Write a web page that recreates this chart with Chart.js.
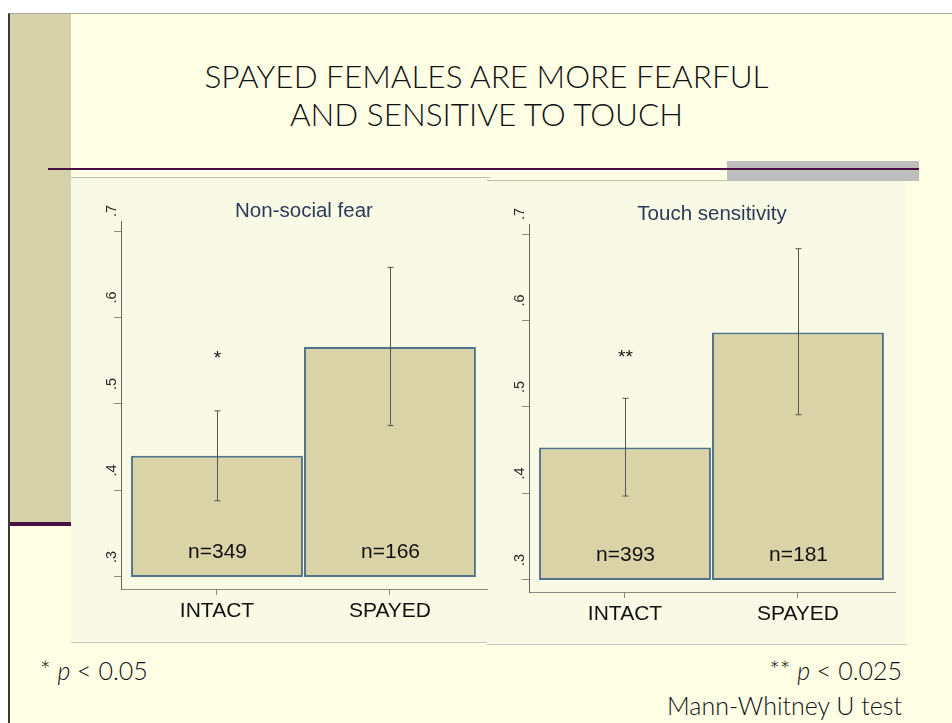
<!DOCTYPE html>
<html>
<head>
<meta charset="utf-8">
<script src="https://cdn.jsdelivr.net/npm/chart.js@4.4.1/dist/chart.umd.min.js"></script>
<style>
  html, body { margin: 0; padding: 0; }
  body { width: 952px; height: 723px; position: relative; overflow: hidden; background: #ffffff; }
  .abs { position: absolute; }
  #slide { left: 8px; top: 13px; width: 944px; height: 710px; background: #ffffe6; border-left: 2px solid #3a3a30; border-top: 1px solid #a8a89a; box-sizing: border-box; }
  #strip { left: 10px; top: 14px; width: 61px; height: 508px; background: #d5d2a9; }
  #stripLine { left: 10px; top: 522px; width: 61px; height: 4px; background: #4a1046; }
  #greyBox { left: 727px; top: 161px; width: 192px; height: 20px; background: #bebebe; }
  #rule { left: 48px; top: 168px; width: 871px; height: 2px; background: #4a1046; }
  .panel { background: #f8fae5; border-top: 1px solid #bdbdb0; border-bottom: 1px solid #c6c6b8; box-sizing: border-box; }
  #panelL { left: 71px; top: 177px; width: 419px; height: 466px; }
  #panelR { left: 487px; top: 180px; width: 420px; height: 465px; }
  canvas { position: absolute; }
  .title { left: 71px; width: 831px; text-align: center; font-family: Lato, "Open Sans", sans-serif; font-weight: 300; font-size: 31.5px; color: #111; line-height: 37px; white-space: nowrap; }
  .note { font-family: Lato, "Open Sans", sans-serif; font-weight: 300; font-size: 25px; color: #111; white-space: nowrap; }
</style>
</head>
<body>
<div id="slide" class="abs"></div>
<div id="strip" class="abs"></div>
<div id="stripLine" class="abs"></div>
<div id="panelL" class="abs panel"></div>
<div id="panelR" class="abs panel"></div>
<div id="greyBox" class="abs"></div>
<div id="rule" class="abs"></div>
<div class="abs title" style="top:58px;">SPAYED FEMALES ARE MORE FEARFUL</div>
<div class="abs title" style="top:96px;">AND SENSITIVE TO TOUCH</div>
<canvas id="fearChart" width="420" height="466" style="left:71px; top:177px; width:420px; height:466px;"></canvas>
<canvas id="touchChart" width="420" height="466" style="left:479px; top:180px; width:420px; height:466px;"></canvas>
<div class="abs note" style="left:40px; top:655px;">* <i>p</i> &lt; 0.05</div>
<div class="abs note" style="right:50px; top:655px;">** <i>p</i> &lt; 0.025</div>
<div class="abs note" style="right:50px; top:690px;">Mann-Whitney U test</div>

<script>
const categories = ['INTACT', 'SPAYED'];
const yTicks = [0.3, 0.4, 0.5, 0.6, 0.7];
const barBase = 0.3;

// Non-social fear
const fearMeans = [0.440, 0.566];
const fearLow = [0.388, 0.475];
const fearHigh = [0.492, 0.658];
const fearN = ['n=349', 'n=166'];
const fearStars = ['*', ''];
const fearStarAt = 0.557;

// Touch sensitivity
const touchMeans = [0.453, 0.586];
const touchLow = [0.397, 0.491];
const touchHigh = [0.510, 0.683];
const touchN = ['n=393', 'n=181'];
const touchStars = ['**', ''];
const touchStarAt = 0.562;

const nLabelAt = 0.329;
const ARIAL = '"Liberation Sans", Arial, sans-serif';

// error bars, n= labels and significance stars
const annotate = {
  id: 'annotate',
  afterDatasetsDraw(chart, args, opts) {
    const { ctx, scales: { x, y } } = chart;
    ctx.save();
    ctx.strokeStyle = '#55554c';
    ctx.lineWidth = 1;
    categories.forEach((c, i) => {
      const px = Math.round(x.getPixelForValue(i)) + 0.5;
      const yLo = y.getPixelForValue(opts.low[i]);
      const yHi = y.getPixelForValue(opts.high[i]);
      ctx.beginPath();
      ctx.moveTo(px, yLo); ctx.lineTo(px, yHi);
      ctx.moveTo(px - 3, yLo); ctx.lineTo(px + 3, yLo);
      ctx.moveTo(px - 3, yHi); ctx.lineTo(px + 3, yHi);
      ctx.stroke();

      ctx.fillStyle = '#111';
      ctx.textAlign = 'center';
      ctx.textBaseline = 'middle';
      ctx.font = '21px ' + ARIAL;
      ctx.fillText(opts.n[i], px, y.getPixelForValue(nLabelAt));
      if (opts.stars[i]) {
        ctx.font = '19px ' + ARIAL;
        ctx.fillText(opts.stars[i], px, y.getPixelForValue(opts.starAt) + 4);
      }
    });
    ctx.restore();
  }
};

function makeChart(id, title, means, low, high, nLabels, stars, starAt) {
  return new Chart(document.getElementById(id), {
    type: 'bar',
    data: {
      datasets: [{
        data: categories.map((c, i) => ({ x: i, y: [barBase, means[i]] })),
        backgroundColor: '#dad3a8',
        borderColor: '#51748a',
        borderWidth: 2,
        borderSkipped: false,
        categoryPercentage: 1,
        barPercentage: 0.994
      }]
    },
    options: {
      responsive: false,
      animation: false,
      layout: { padding: { left: 0, right: 4, top: 0, bottom: 14 } },
      plugins: {
        legend: { display: false },
        tooltip: { enabled: false },
        title: {
          display: true,
          text: title,
          fullSize: false,
          color: '#2b3a58',
          font: { family: ARIAL, size: 20.5, weight: 'normal', lineHeight: 1 },
          padding: { top: 24, bottom: 0 }
        },
        annotate: { low, high, n: nLabels, stars, starAt }
      },
      scales: {
        x: {
          type: 'linear',
          offset: false,
          min: -0.555,
          max: 1.561,
          afterBuildTicks: s => { s.ticks = categories.map((c, i) => ({ value: i })); },
          afterFit: s => { s.height = 40; },
          grid: { offset: false, drawOnChartArea: false, tickLength: 6, color: '#8a8a80' },
          border: { color: '#8a8a80' },
          ticks: {
            autoSkip: false,
            maxRotation: 0,
            padding: 4,
            color: '#111',
            font: { family: ARIAL, size: 21 },
            callback: v => categories[v]
          }
        },
        y: {
          min: 0.286,
          max: 0.711,
          afterBuildTicks: s => { s.ticks = yTicks.map(v => ({ value: v })); },
          afterFit: s => { s.width = 50; },
          grid: { drawOnChartArea: false, tickLength: 7, color: '#8a8a80' },
          border: { color: '#666660' },
          ticks: {
            minRotation: 90,
            maxRotation: 90,
            crossAlign: 'center',
            padding: -4,
            labelOffset: -20,
            color: '#2a2a2a',
            font: { family: ARIAL, size: 14.5 },
            callback: v => String(v.toFixed(1)).replace('0.', '.')
          }
        }
      }
    },
    plugins: [annotate]
  });
}

makeChart('fearChart', 'Non-social fear', fearMeans, fearLow, fearHigh, fearN, fearStars, fearStarAt);
makeChart('touchChart', 'Touch sensitivity', touchMeans, touchLow, touchHigh, touchN, touchStars, touchStarAt);
</script>
</body>
</html>
